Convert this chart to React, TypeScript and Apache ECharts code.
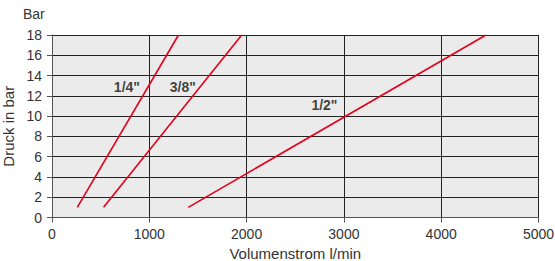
import React, { useEffect, useRef } from "react";
import * as echarts from "echarts";

const lineQuarter: [number, number][] = [[260, 1], [1300, 18]];
const lineThreeEighths: [number, number][] = [[530, 1], [1950, 18]];
const lineHalf: [number, number][] = [[1400, 1], [4460, 18]];
const labelNames = ['1/4"', '3/8"', '1/2"'];
const labelPoints: [number, number][] = [[770, 12.85], [1345, 12.85], [2800, 11.05]];

const FONT = "Liberation Sans, Arial, sans-serif";
const RED = "#e3001b";

export default function App() {
  const ref = useRef<HTMLDivElement>(null);
  useEffect(() => {
    if (!ref.current) return;
    const chart = echarts.init(ref.current, undefined, { renderer: "svg" });
    const lineSeries = (data: [number, number][]) => ({
      type: "line",
      data,
      symbol: "none",
      lineStyle: { color: RED, width: 1.6 },
      silent: true,
    });
    chart.setOption({
      animation: false,
      backgroundColor: "#ffffff",
      textStyle: { fontFamily: FONT },
      grid: {
        left: 52,
        right: 16.5,
        top: 35,
        bottom: 43.5,
        show: true,
        backgroundColor: "#ebebeb",
        borderWidth: 0,
        containLabel: false,
        outerBoundsMode: "none",
      },
      xAxis: {
        type: "value",
        min: 0,
        max: 5000,
        interval: 1000,
        name: "Volumenstrom l/min",
        nameLocation: "middle",
        nameGap: 28,
        nameTextStyle: { fontSize: 15, color: "#333", fontFamily: FONT },
        axisLine: { show: true, lineStyle: { color: "#555", width: 1 } },
        axisTick: { show: true, length: 5, lineStyle: { color: "#555" } },
        axisLabel: { fontSize: 14, color: "#333", margin: 9, fontFamily: FONT, formatter: (v: number) => String(v) },
        splitLine: { show: true, lineStyle: { color: "#222", width: 1 } },
      },
      yAxis: {
        type: "value",
        min: 0,
        max: 18,
        interval: 2,
        name: "Druck in bar",
        nameLocation: "middle",
        nameGap: 36,
        nameRotate: 90,
        nameTextStyle: { fontSize: 15, color: "#333", fontFamily: FONT },
        axisLine: { show: true, lineStyle: { color: "#555", width: 1 } },
        axisTick: { show: true, length: 5, lineStyle: { color: "#555" } },
        axisLabel: { fontSize: 14, color: "#333", margin: 10, fontFamily: FONT, formatter: (v: number) => String(v) },
        splitLine: { show: true, lineStyle: { color: "#222", width: 1 } },
      },
      graphic: [
        {
          type: "text",
          left: 23,
          top: 7,
          style: { text: "Bar", fontSize: 14, fill: "#333", fontFamily: FONT },
        },
      ],
      series: [
        lineSeries(lineQuarter),
        lineSeries(lineThreeEighths),
        lineSeries(lineHalf),
        {
          type: "scatter",
          data: labelPoints.map((p, i) => ({ value: p, name: labelNames[i] })),
          symbolSize: 0,
          silent: true,
          label: {
            show: true,
            position: "inside",
            formatter: (p: any) => p.name,
            fontSize: 14,
            fontWeight: "bold",
            color: "#111",
            fontFamily: FONT,
          },
        },
      ],
    });
    return () => chart.dispose();
  }, []);
  return (
    <div
      ref={ref}
      style={{ position: "fixed", left: 0, top: 0, width: 555, height: 261 }}
    />
  );
}
